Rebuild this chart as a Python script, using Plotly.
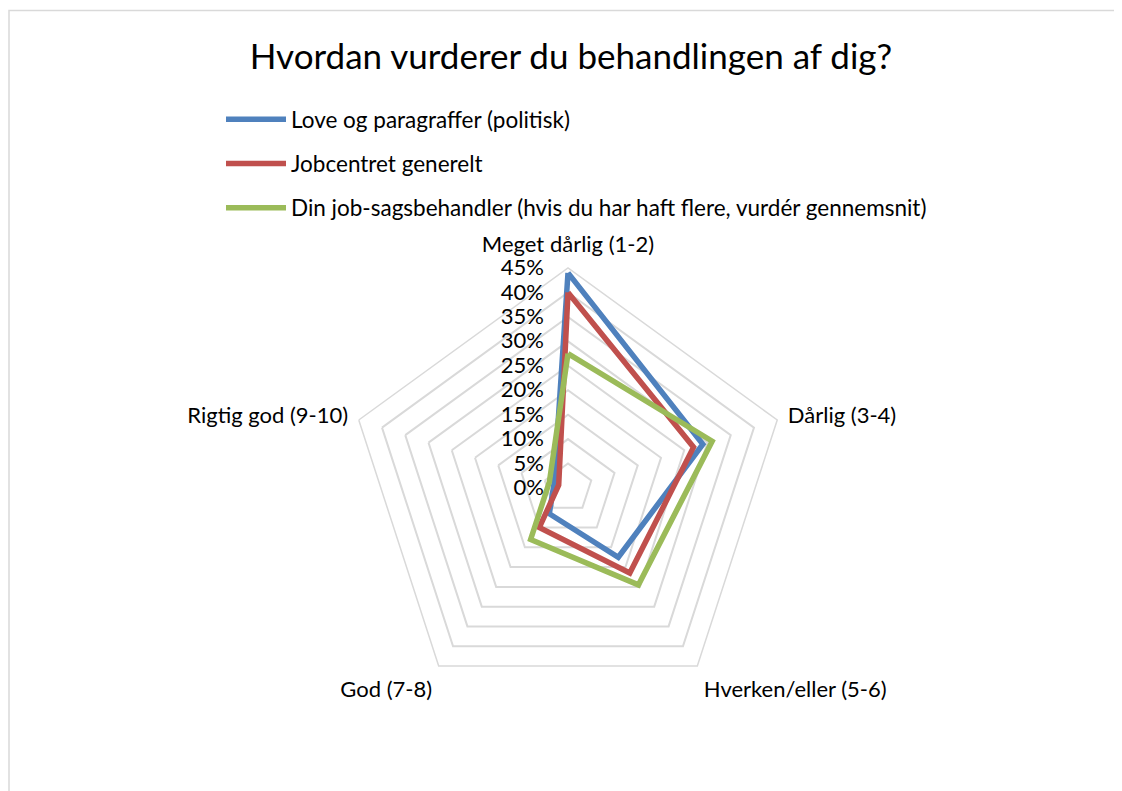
import plotly.graph_objects as go

categories = ["Meget dårlig (1-2)", "Dårlig (3-4)", "Hverken/eller (5-6)", "God (7-8)", "Rigtig god (9-10)"]
series_names = [
    "Love og paragraffer (politisk)",
    "Jobcentret generelt",
    "Din job-sagsbehandler (hvis du har haft flere, vurdér gennemsnit)",
]
love_values = [0.44, 0.29, 0.175, 0.065, 0.03]
jobcenter_values = [0.40, 0.27, 0.215, 0.10, 0.02]
sagsbehandler_values = [0.275, 0.31, 0.245, 0.13, 0.04]
colors = ["#4F81BD", "#C0504D", "#9BBB59"]
tick_values = [0, 0.05, 0.10, 0.15, 0.20, 0.25, 0.30, 0.35, 0.40, 0.45]

FONT = "Lato"
W, H = 1122, 791
OFF = 8  # page body margin

fig = go.Figure()
for i, (name, vals, col) in enumerate(zip(series_names, [love_values, jobcenter_values, sagsbehandler_values], colors)):
    fig.add_trace(go.Scatterpolar(
        r=vals + vals[:1],
        theta=categories + categories[:1],
        mode="lines",
        name=name,
        legendgroup=f"g{i}",
        line=dict(color=col, width=5.5),
    ))

cx, cy, R = 568 - OFF, 488 - OFF, 220
fig.update_layout(
    width=W, height=H,
    margin=dict(l=0, r=0, t=0, b=0),
    paper_bgcolor="white",
    plot_bgcolor="white",
    font=dict(family=FONT, color="#000000", size=22),
    title=dict(text="Hvordan vurderer du behandlingen af dig?", x=(571 - OFF) / W, xanchor="center",
               y=1 - (57 - OFF) / H, yanchor="middle", font=dict(family=FONT, size=35, color="#000000")),
    showlegend=True,
    legend=dict(x=(228 - OFF - 7) / W, y=1 - (119 - OFF - 21) / H, xanchor="left", yanchor="top",
                font=dict(family=FONT, size=22.5, color="#000000"),
                tracegroupgap=12, itemwidth=60, bgcolor="rgba(0,0,0,0)"),
    polar=dict(
        domain=dict(x=[(cx - R) / W, (cx + R) / W], y=[1 - (cy + R) / H, 1 - (cy - R) / H]),
        bgcolor="white",
        gridshape="linear",
        radialaxis=dict(
            range=[0, 0.45], tickvals=tick_values, tickformat=".0%",
            angle=90, tickangle=90, side="counterclockwise",
            showline=False, ticks="outside", ticklen=16, tickcolor="rgba(0,0,0,0)",
            gridcolor="#d9d9d9", gridwidth=1.5,
            tickfont=dict(family=FONT, size=22, color="#000000"),
        ),
        angularaxis=dict(
            direction="clockwise", rotation=90,
            showgrid=False, showline=True, linecolor="#d9d9d9", linewidth=1.5,
            ticks="outside", ticklen=6, tickcolor="rgba(0,0,0,0)",
            tickfont=dict(family=FONT, size=22, color="#000000"),
        ),
    ),
    shapes=[dict(type="rect", xref="paper", yref="paper",
                 x0=1 / W, x1=1.05, y0=-0.05, y1=1 - (10.5 - OFF) / H,
                 line=dict(color="#d9d9d9", width=1.5), fillcolor="rgba(0,0,0,0)", layer="below")],
)

fig.write_html("out.html")
